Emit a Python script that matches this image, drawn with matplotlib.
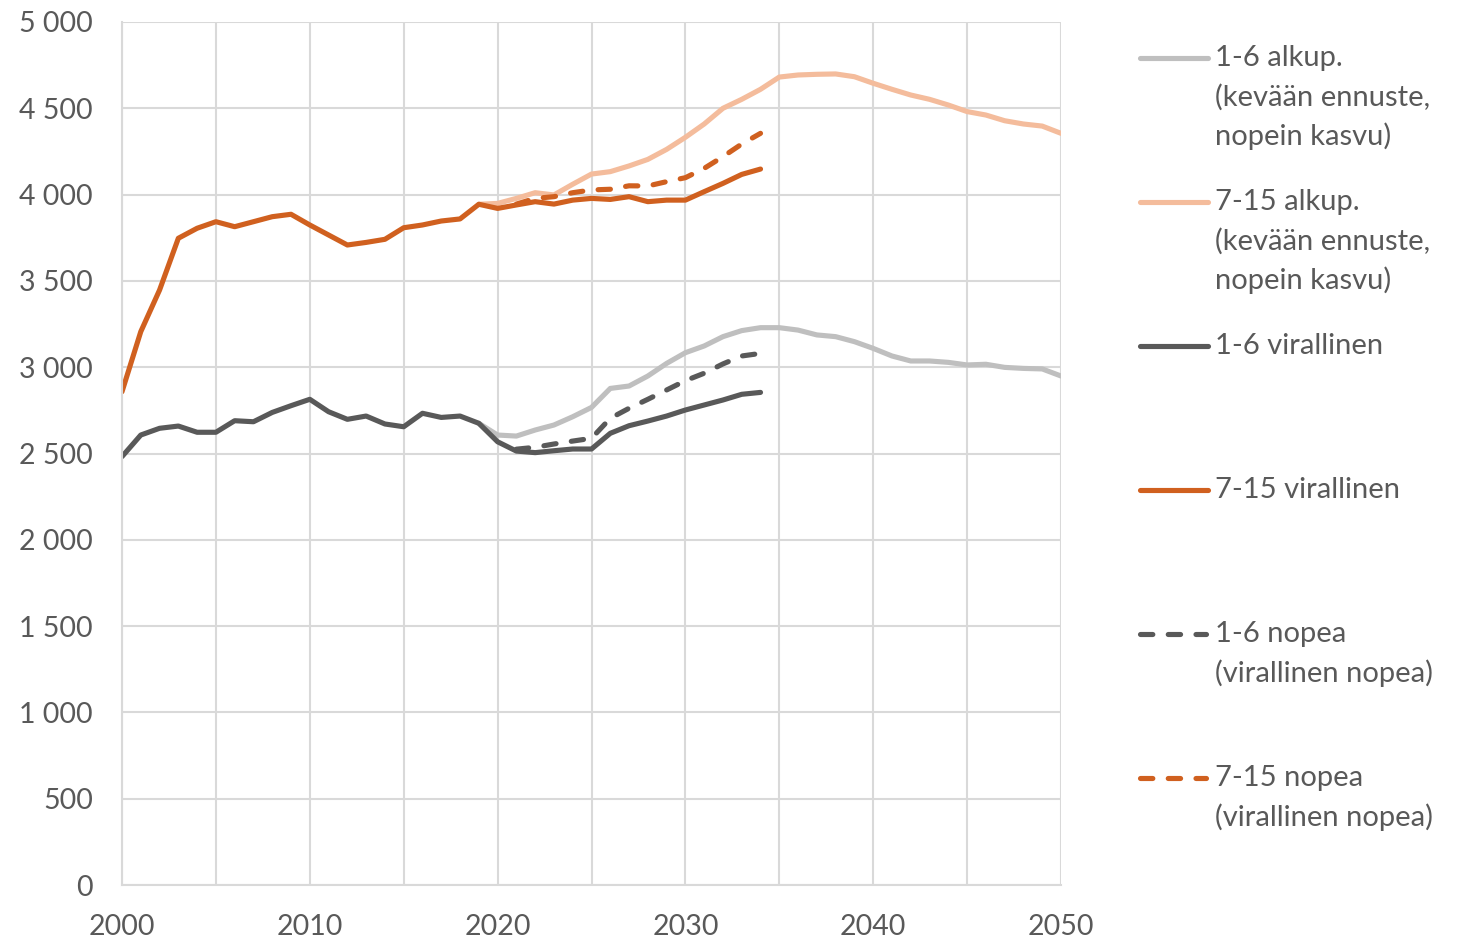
import numpy as np
import matplotlib.pyplot as plt
from matplotlib.lines import Line2D
from matplotlib.ticker import FuncFormatter, MultipleLocator

plt.rcParams['font.family'] = ['Lato', 'DejaVu Sans']

# Vuodet ja sarjat
vuodet_hist = list(range(2000, 2035))
v16_virallinen = [2482, 2607, 2646, 2659, 2623, 2623, 2690, 2684, 2738, 2777,
                  2814, 2742, 2698, 2717, 2671, 2655, 2733, 2709, 2717, 2675,
                  2568, 2514, 2505, 2516, 2526, 2526, 2617, 2661, 2688, 2717,
                  2752, 2781, 2810, 2843, 2854]
v715_virallinen = [2858, 3206, 3447, 3747, 3805, 3843, 3814, 3843, 3872, 3886,
                   3824, 3766, 3708, 3723, 3741, 3808, 3824, 3847, 3859, 3944,
                   3920, 3940, 3959, 3945, 3968, 3978, 3972, 3988, 3959, 3968,
                   3968, 4017, 4065, 4117, 4148]

vuodet_alkup = list(range(2019, 2051))
v16_alkup = [2675, 2607, 2601, 2636, 2665, 2713, 2767, 2877, 2891, 2949,
             3022, 3084, 3123, 3177, 3212, 3229, 3229, 3215, 3187, 3177,
             3148, 3109, 3065, 3036, 3036, 3028, 3013, 3017, 2999, 2993,
             2990, 2949]
v715_alkup = [3944, 3949, 3978, 4011, 3998, 4060, 4119, 4133, 4166, 4204,
              4262, 4332, 4409, 4500, 4552, 4610, 4681, 4693, 4697, 4699,
              4683, 4645, 4610, 4577, 4552, 4519, 4481, 4461, 4428, 4409,
              4397, 4355]

vuodet_nopea = list(range(2021, 2035))
v16_nopea = [2525, 2536, 2555, 2572, 2588, 2704, 2762, 2814, 2868, 2922,
             2965, 3019, 3065, 3080]
v715_nopea = [3945, 3978, 3988, 4011, 4027, 4031, 4051, 4050, 4075, 4098,
              4152, 4220, 4293, 4355]

VAALEA_HARMAA = '#BFBFBF'
VAALEA_ORANSSI = '#F4BC9C'
TUMMA_HARMAA = '#595959'
ORANSSI = '#D0601F'
TEKSTI = '#595959'
RUUDUKKO = '#D9D9D9'

fig = plt.figure(figsize=(14.66, 9.39), dpi=100)
ax = fig.add_axes([122/1466, 54/939, (1061-122)/1466, (885-22)/939])

lw = 3.7
yhteinen = dict(lw=lw, solid_capstyle='round', solid_joinstyle='round',
                dash_capstyle='round', dash_joinstyle='round')
viiva = (0, (2.4, 3.0))

ax.plot(vuodet_alkup, v16_alkup, color=VAALEA_HARMAA, **yhteinen)
ax.plot(vuodet_alkup, v715_alkup, color=VAALEA_ORANSSI, **yhteinen)
ax.plot(vuodet_hist, v16_virallinen, color=TUMMA_HARMAA, **yhteinen)
ax.plot(vuodet_hist, v715_virallinen, color=ORANSSI, **yhteinen)
ax.plot(vuodet_nopea, v16_nopea, color=TUMMA_HARMAA, linestyle=viiva, **yhteinen)
ax.plot(vuodet_nopea, v715_nopea, color=ORANSSI, linestyle=viiva, **yhteinen)

ax.set_xlim(2000, 2050)
ax.set_ylim(0, 5000)
ax.xaxis.set_major_locator(MultipleLocator(10))
ax.xaxis.set_minor_locator(MultipleLocator(5))
ax.yaxis.set_major_locator(MultipleLocator(500))
ax.yaxis.set_major_formatter(FuncFormatter(lambda v, p: f'{v:,.0f}'.replace(',', ' ')))

ax.grid(True, which='both', color=RUUDUKKO, lw=1.5)
ax.set_axisbelow(True)
for s in ['top', 'right']:
    ax.spines[s].set_visible(False)
for s in ['left', 'bottom']:
    ax.spines[s].set_color(RUUDUKKO)
    ax.spines[s].set_linewidth(1.5)

ax.tick_params(axis='both', which='both', length=0, labelsize=20.5, labelcolor=TEKSTI)
ax.tick_params(axis='x', pad=21)
ax.tick_params(axis='y', pad=21)

# Selite käsin
selitteet = [
    (VAALEA_HARMAA, '-', ['1-6 alkup.', '(kevään ennuste,', 'nopein kasvu)']),
    (VAALEA_ORANSSI, '-', ['7-15 alkup.', '(kevään ennuste,', 'nopein kasvu)']),
    (TUMMA_HARMAA, '-', ['1-6 virallinen']),
    (ORANSSI, '-', ['7-15 virallinen']),
    (TUMMA_HARMAA, '--', ['1-6 nopea', '(virallinen nopea)']),
    (ORANSSI, '--', ['7-15 nopea', '(virallinen nopea)']),
]
W, H = 1466, 939
for i, (vari, tyyli, rivit) in enumerate(selitteet):
    yp = 58 + i * 144
    ls = viiva if tyyli == '--' else '-'
    x1 = 1206 if tyyli == '--' else 1208
    fig.add_artist(Line2D([1140/W, x1/W], [1 - yp/H, 1 - yp/H], color=vari,
                          linestyle=ls, **yhteinen))
    for j, rivi in enumerate(rivit):
        fig.text(1215/W, 1 - (yp + j*39)/H, rivi, fontsize=21, color=TEKSTI,
                 ha='left', va='center')

fig.savefig('out.png', dpi=100)
